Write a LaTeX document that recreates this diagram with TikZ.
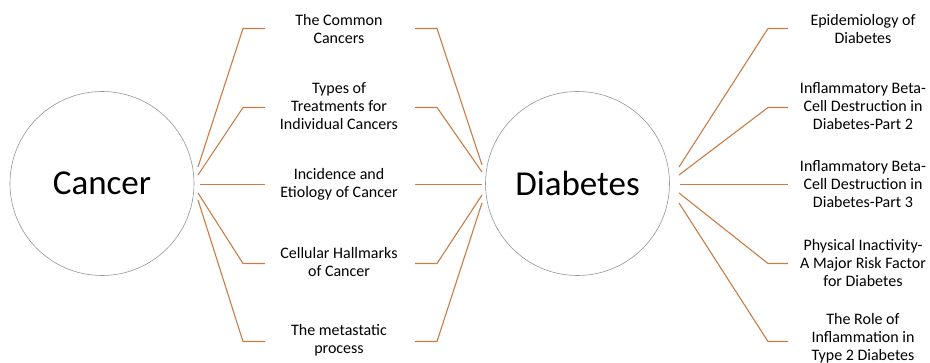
\documentclass[tikz,border=0pt]{standalone}
\usepackage{fontspec}
\setmainfont{Carlito}
\definecolor{linkor}{RGB}{200,125,70}
\definecolor{ringgray}{RGB}{150,150,150}
\begin{document}
\begin{tikzpicture}[x=1pt,y=-1pt,
  hub/.style={circle,draw=ringgray,line width=0.6pt,minimum size=184pt,inner sep=0pt,font=\fontsize{35}{40}\selectfont},
  topic/.style={align=center,font=\fontsize{16}{18}\selectfont,inner sep=0pt},
  link/.style={draw=linkor,line width=1.1pt}]
\useasboundingbox (0,0) rectangle (930,363);
\node[hub] (cancer) at (102,183.5) {Cancer};
\node[hub] (diabetes) at (577.5,183.5) {Diabetes};
% middle topics
\node[topic] (m1) at (339,29) {The Common\\Cancers};
\node[topic] (m2) at (339,106) {Types of\\Treatments for\\Individual Cancers};
\node[topic] (m3) at (339,184) {Incidence and\\Etiology of Cancer};
\node[topic] (m4) at (339,262) {Cellular Hallmarks\\of Cancer};
\node[topic] (m5) at (339,340) {The metastatic\\process};
% right topics
\node[topic] (r1) at (863,29) {Epidemiology of\\Diabetes};
\node[topic] (r2) at (863,106) {Inflammatory Beta-\\Cell Destruction in\\Diabetes-Part 2};
\node[topic] (r3) at (863,184) {Inflammatory Beta-\\Cell Destruction in\\Diabetes-Part 3};
\node[topic] (r4) at (863,263) {Physical Inactivity-\\A Major Risk Factor\\for Diabetes};
\node[topic] (r5) at (863,338.5) {The Role of\\Inflammation in\\Type 2 Diabetes};
% connector anchor coordinates
\foreach \i/\ys/\ye/\yc/\yd/\yr in {1/167/165/167/28.5/28.5, 2/175/172/175/107.5/107.5, 3/184.5/184.5/184.5/184.5/184.5, 4/193/195/193/263.5/263.5, 5/200/203/203/341.5/341.5}{
  \coordinate (cs\i) at (198,\ys);
  \coordinate (ce\i) at (243,\yd);
  \coordinate (cf\i) at (265,\yd);
  \coordinate (ds\i) at (415,\yd);
  \coordinate (de\i) at (437,\yd);
  \coordinate (df\i) at (482,\ye);
  \coordinate (rs\i) at (679,\yc);
  \coordinate (re\i) at (768,\yr);
  \coordinate (rf\i) at (788,\yr);
}
\coordinate (cs3) at (200,184.5);
\coordinate (rs3) at (680,184.5);
\foreach \i in {1,...,5}{
  \draw[link] (cs\i) -- (ce\i) -- (cf\i);
  \draw[link] (ds\i) -- (de\i) -- (df\i);
  \draw[link] (rs\i) -- (re\i) -- (rf\i);
}
\end{tikzpicture}
\end{document}
